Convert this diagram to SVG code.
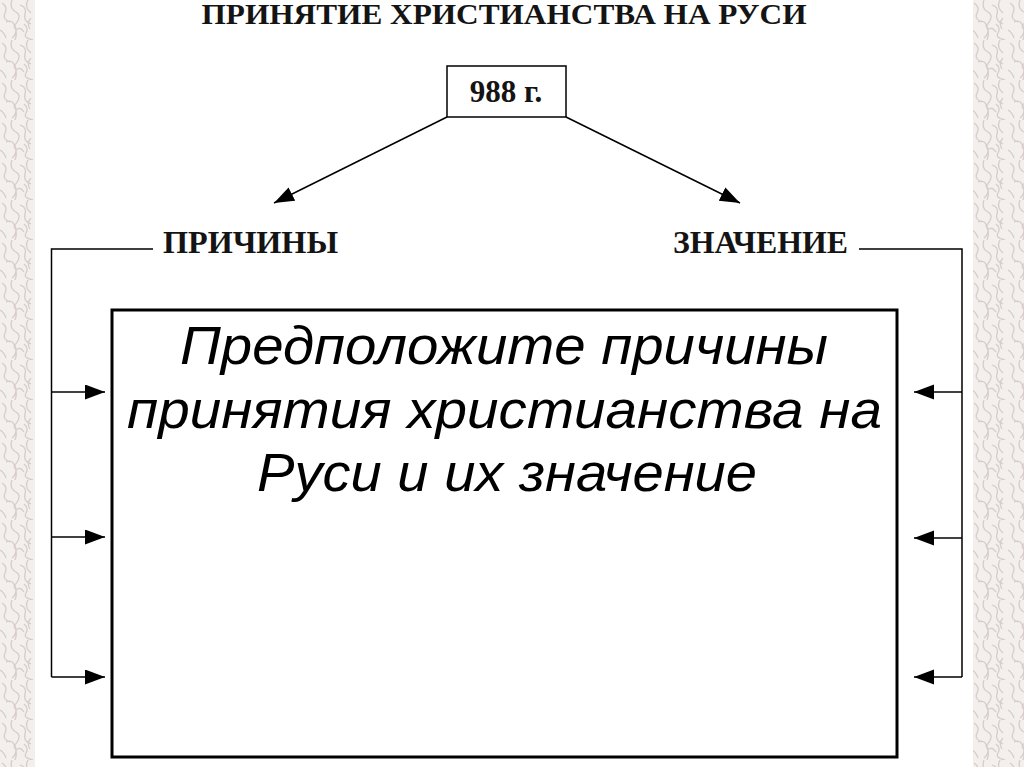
<svg xmlns="http://www.w3.org/2000/svg" width="1024" height="767" viewBox="0 0 1024 767">
  <style>
    .title { font-family: "Liberation Serif", "Times New Roman", serif; font-weight: bold; fill: #141414; }
    .body { font-family: "Liberation Sans", Arial, sans-serif; font-style: italic; fill: #000; }
    .line { stroke: #000; stroke-width: 1.5; fill: none; }
    .box { fill: #fff; stroke: #000; }
  </style>
  <defs>
    <marker id="arrow" markerUnits="userSpaceOnUse" markerWidth="21" markerHeight="16" refX="20" refY="7.5" orient="auto">
      <path d="M0,0 L20,7.5 L0,15 z" fill="#000"/>
    </marker>
    <pattern id="tex" patternUnits="userSpaceOnUse" width="36" height="40">
      <rect width="36" height="40" fill="#f3efec"/>
      <path d="M2,3 q6,4 3,10 t5,9 M12,0 q-3,8 4,12 t-2,14 q4,6 1,14 M20,5 q7,2 5,9 t6,10 M28,0 q-4,7 3,13 M6,22 q6,-3 9,4 t-3,12 M24,24 q5,4 2,9 t7,7 M31,18 q-5,5 -1,11 M0,30 q4,2 6,8 M16,30 q4,-4 8,2" fill="none" stroke="#d6cdc8" stroke-width="1.3"/>
    </pattern>
  </defs>

  <rect width="1024" height="767" fill="#fff"/>
  <rect x="0" y="0" width="35" height="767" fill="url(#tex)"/>
  <rect x="973" y="0" width="51" height="767" fill="url(#tex)"/>

  <g id="title">
    <text class="title" x="504" y="24" font-size="30" text-anchor="middle" textLength="605" lengthAdjust="spacingAndGlyphs">ПРИНЯТИЕ ХРИСТИАНСТВА НА РУСИ</text>
  </g>

  <g id="node-year">
    <rect class="box" x="447" y="66" width="119" height="51" stroke-width="1.5"/>
    <text class="title" x="506" y="102" font-size="31" text-anchor="middle">988 г.</text>
  </g>

  <g id="node-prichiny">
    <text class="title" x="250.5" y="253" font-size="32" text-anchor="middle" textLength="175" lengthAdjust="spacingAndGlyphs">ПРИЧИНЫ</text>
  </g>

  <g id="node-znachenie">
    <text class="title" x="760.5" y="253" font-size="32" text-anchor="middle" textLength="175" lengthAdjust="spacingAndGlyphs">ЗНАЧЕНИЕ</text>
  </g>

  <g id="node-main">
    <rect class="box" x="112" y="310" width="785" height="447" stroke-width="3"/>
    <text class="body" x="504" y="364" font-size="54" text-anchor="middle" textLength="648" lengthAdjust="spacingAndGlyphs">Предположите причины</text>
    <text class="body" x="504.5" y="428" font-size="54" text-anchor="middle" textLength="755" lengthAdjust="spacingAndGlyphs">принятия христианства на</text>
    <text class="body" x="507" y="491" font-size="54" text-anchor="middle" textLength="500" lengthAdjust="spacingAndGlyphs">Руси и их значение</text>
  </g>

  <g id="connectors">
    <line class="line" x1="447" y1="117" x2="274" y2="203" marker-end="url(#arrow)"/>
    <line class="line" x1="566" y1="117" x2="740" y2="203" marker-end="url(#arrow)"/>
    <polyline class="line" points="153,249 51.5,249 51.5,677"/>
    <line class="line" x1="51.5" y1="392" x2="105" y2="392" marker-end="url(#arrow)"/>
    <line class="line" x1="51.5" y1="537" x2="105" y2="537" marker-end="url(#arrow)"/>
    <line class="line" x1="51.5" y1="677" x2="105" y2="677" marker-end="url(#arrow)"/>
    <polyline class="line" points="859,249 962,249 962,677"/>
    <line class="line" x1="962" y1="392" x2="914" y2="392" marker-end="url(#arrow)"/>
    <line class="line" x1="962" y1="538" x2="914" y2="538" marker-end="url(#arrow)"/>
    <line class="line" x1="962" y1="677" x2="914" y2="677" marker-end="url(#arrow)"/>
  </g>
</svg>
